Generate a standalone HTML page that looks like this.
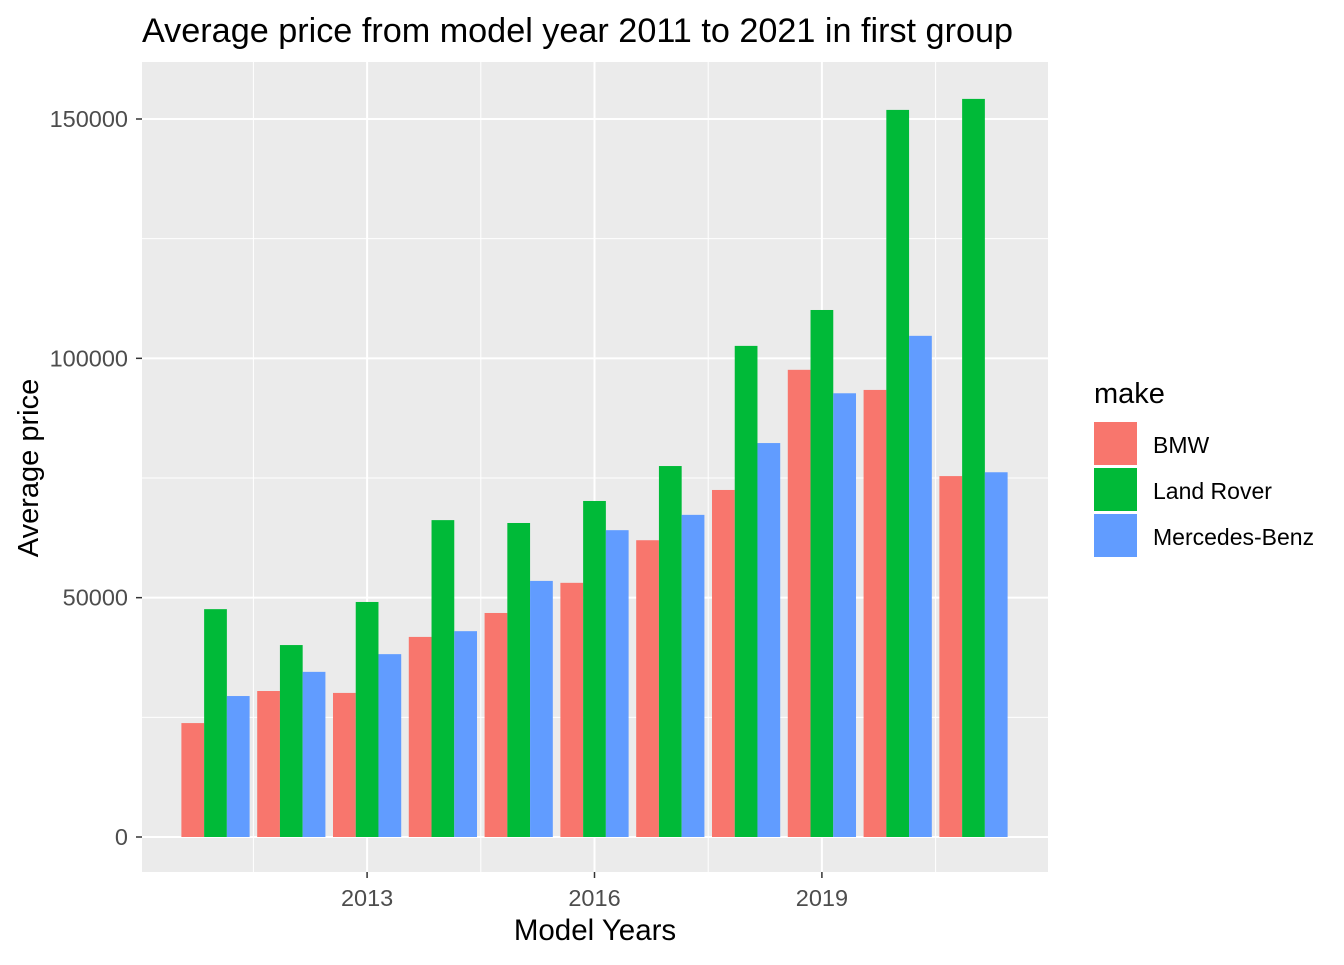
<!DOCTYPE html>
<html><head><meta charset="utf-8"><style>
html,body{margin:0;padding:0;background:#fff;}
svg text{font-family:"Liberation Sans",Arial,sans-serif;}
</style></head><body>
<svg id="chart" width="1344" height="960" xmlns="http://www.w3.org/2000/svg">
<rect x="0" y="0" width="1344" height="960" fill="#fff"/>
<text x="142" y="42" font-size="34.2" fill="#000">Average price from model year 2011 to 2021 in first group</text>
<rect x="142" y="62" width="906" height="810" fill="#ebebeb"/>
<g id="grid"></g>
<g id="bars"></g>
<g id="axes"></g>
<text x="595" y="940" font-size="29.5" text-anchor="middle" fill="#000">Model Years</text>
<text transform="translate(38,468) rotate(-90)" font-size="29" text-anchor="middle" fill="#000">Average price</text>
<g>
<text x="1094" y="403" font-size="29" fill="#000">make</text>
<rect x="1094" y="422" width="43" height="43" fill="#f8766d"/>
<text x="1153" y="453" font-size="23" fill="#000">BMW</text>
<rect x="1094" y="468" width="43" height="43" fill="#00ba38"/>
<text x="1153" y="499" font-size="23" fill="#000">Land Rover</text>
<rect x="1094" y="514" width="43" height="43" fill="#619cff"/>
<text x="1153" y="545" font-size="23" fill="#000">Mercedes-Benz</text>
</g>
</svg>
<script>
const years = [2011,2012,2013,2014,2015,2016,2017,2018,2019,2020,2021];
const bmw = [23800,30500,30100,41800,46800,53100,62000,72500,97600,93400,75400];
const landRover = [47600,40100,49100,66200,65600,70200,77500,102600,110100,151900,154200];
const mercedes = [29450,34500,38200,43000,53500,64100,67300,82300,92700,104700,76200];
const yTicks = [0,50000,100000,150000];
const xTicks = [2013,2016,2019];
const seriesNames = ["bmw","land-rover","mercedes-benz"];
const colors = ["#f8766d","#00ba38","#619cff"];

const NS="http://www.w3.org/2000/svg";
const X0=142,X1=1048,Y0=62,Y1=872;
function xScale(yr){return 215.5+(yr-2011)*75.8;}
function yScale(v){return 837-v*718/150000;}
function mk(tag,attrs,parent){const e=document.createElementNS(NS,tag);for(const k in attrs)e.setAttribute(k,attrs[k]);parent.appendChild(e);return e;}
const grid=document.getElementById('grid'),barsG=document.getElementById('bars'),axes=document.getElementById('axes');
for(let i=0;i<yTicks.length-1;i++){
  const y=yScale((yTicks[i]+yTicks[i+1])/2);
  const l=mk('line',{x1:X0,x2:X1,y1:y,y2:y,stroke:'#fff','stroke-width':1},grid);
  
  
}
for(let i=0;i<xTicks.length;i++){
  [xTicks[i]-1.5].concat(i===xTicks.length-1?[xTicks[i]+1.5]:[]).forEach(v=>{
    const x=xScale(v);
    const l=mk('line',{x1:x,x2:x,y1:Y0,y2:Y1,stroke:'#fff','stroke-width':1},grid);
    
    
  });
}
yTicks.forEach(v=>{
  const y=yScale(v);
  const l=mk('line',{x1:X0,x2:X1,y1:y,y2:y,stroke:'#fff','stroke-width':2},grid);
  
  
  const t=mk('line',{x1:X0-6,x2:X0,y1:y,y2:y,stroke:'#333','stroke-width':1.5},axes);
  
  
  const tx=mk('text',{x:X0-14,y:y+8,'font-size':23.5,fill:'#4d4d4d','text-anchor':'end'},axes);
  tx.textContent=v;
  
  
});
xTicks.forEach(v=>{
  const x=xScale(v);
  const l=mk('line',{x1:x,x2:x,y1:Y0,y2:Y1,stroke:'#fff','stroke-width':2},grid);
  
  
  const t=mk('line',{x1:x,x2:x,y1:Y1,y2:Y1+6,stroke:'#333','stroke-width':1.5},axes);
  
  
  const tx=mk('text',{x:x,y:Y1+34,'font-size':23.5,fill:'#4d4d4d','text-anchor':'middle'},axes);
  tx.textContent=v;
  
  
});
const series=[bmw,landRover,mercedes];
const groupW=0.9*75.8,bw=groupW/3;
years.forEach((yr,i)=>{
  series.forEach((s,j)=>{
    const x=xScale(yr)-groupW/2+j*bw;
    const y=yScale(s[i]);
    const r=mk('rect',{x:x,y:y,width:bw,height:yScale(0)-y,fill:colors[j]},barsG);
    
    
  });
});
</script>
</body></html>
